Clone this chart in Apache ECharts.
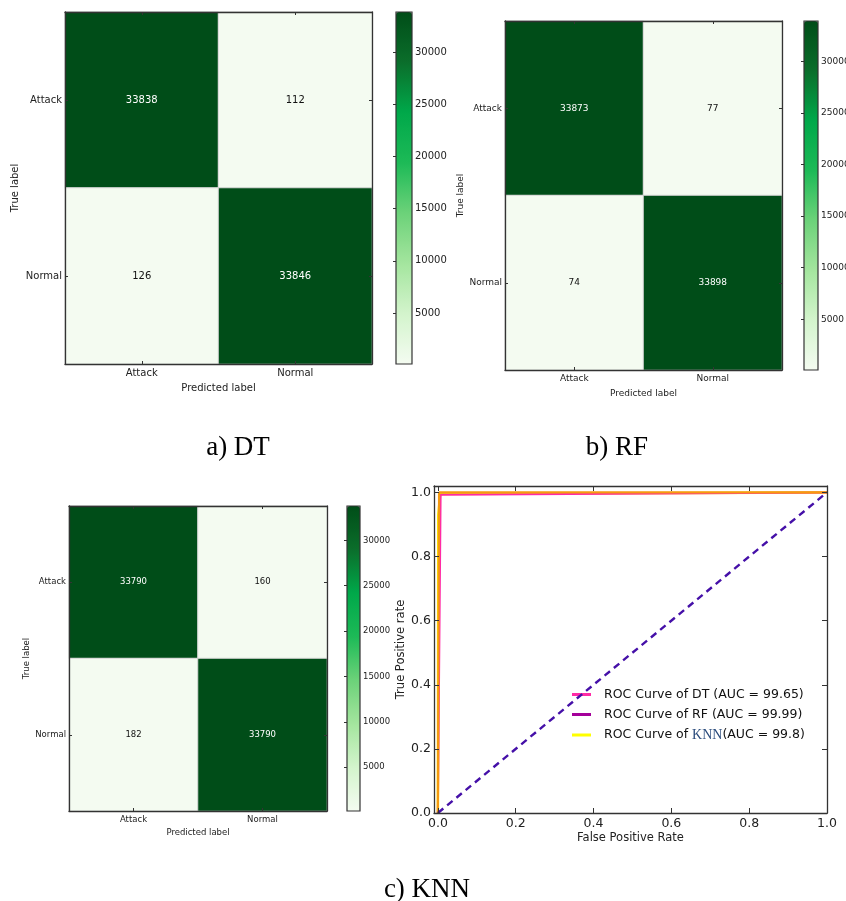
<!DOCTYPE html>
<html><head><meta charset="utf-8">
<script src="https://cdn.jsdelivr.net/npm/echarts@6/dist/echarts.min.js"></script>
<style>html,body{margin:0;padding:0;background:#fff}#c{width:846px;height:901px}</style>
</head><body><div id="c"></div>
<script>
// ---- data ----
const classLabels = ['Attack', 'Normal'];
// rows = true label, cols = predicted label
const dtMatrix = [[33838, 112], [126, 33846]];
const rfMatrix = [[33873, 77], [74, 33898]];
const knnMatrix = [[33790, 160], [182, 33790]];
const colorbarTicks = [5000, 10000, 15000, 20000, 25000, 30000];
const rocTicks = [0, 0.2, 0.4, 0.6, 0.8, 1.0];
const rocDT = [[0, 0], [0.007, 0.993], [1, 1]];
const rocRF = [[0, 0], [0.003, 1.0], [1, 1]];
const rocKNN = [[0, 0], [0.001, 0.93], [0.006, 0.995], [1, 1]];
const chanceLine = [[0, 0], [1, 1]];
const legendNames = ['ROC Curve of DT (AUC = 99.65)', 'ROC Curve of RF (AUC = 99.99)', 'ROC Curve of KNN (AUC = 99.8)'];
const captions = ['a) DT', 'b) RF', 'c) KNN'];

// ---- styling ----
const fontFam = '"DejaVu Sans", sans-serif';
const txt = '#222';
const frame = '#333';
const greens = ['#f4fbf1', '#d3f4cc', '#a4e59e', '#6cd279', '#1dba57', '#00a84a', '#0b6e2b', '#004d18'];

const grids = [], xAxes = [], yAxes = [], series = [], visualMaps = [], graphics = [];

function addCM(m, p) {
  const gi = grids.length;
  grids.push(Object.assign({ show: false, outerBoundsMode: 'none', containLabel: false }, p.grid));
  const flat = m.flat();
  const vmin = Math.min(...flat), vmax = Math.max(...flat);
  const common = {
    type: 'category', data: classLabels, gridIndex: gi, z: 10,
    axisLine: { show: true, lineStyle: { color: frame, width: 1.3 } },
    axisTick: { show: true, inside: true, alignWithLabel: true, length: 3, lineStyle: { color: frame } },
    splitLine: { show: false }
  };
  const lab = { fontFamily: fontFam, fontSize: p.font, color: txt };
  xAxes.push(Object.assign({}, common, { position: 'bottom', name: 'Predicted label', nameLocation: 'middle', nameGap: p.xGap, nameTextStyle: lab, axisLabel: Object.assign({ margin: 4 }, lab) }));
  const xi = xAxes.length - 1;
  xAxes.push(Object.assign({}, common, { position: 'top', axisLabel: { show: false } }));
  yAxes.push(Object.assign({}, common, { position: 'left', inverse: true, name: 'True label', nameLocation: 'middle', nameGap: p.yGap, nameTextStyle: lab, axisLabel: Object.assign({ margin: 3 }, lab) }));
  const yi = yAxes.length - 1;
  yAxes.push(Object.assign({}, common, { position: 'right', inverse: true, axisLabel: { show: false } }));
  const data = [];
  m.forEach((row, i) => row.forEach((v, j) => data.push({ value: [j, i, v], label: { color: v > (vmin + vmax) / 2 ? '#ffffff' : '#111111' } })));
  const si = series.length;
  series.push({
    type: 'heatmap', xAxisIndex: xi, yAxisIndex: yi, data,
    label: { show: true, fontFamily: fontFam, fontSize: p.font },
    itemStyle: { borderColor: '#d8d8d8', borderWidth: 1 },
    emphasis: { disabled: true }
  });
  visualMaps.push({
    type: 'continuous', seriesIndex: si, dimension: 2, min: vmin, max: vmax,
    inRange: { color: greens }, show: true, calculable: false, orient: 'vertical',
    left: p.cb.left, top: p.cb.top, itemWidth: p.cb.width, itemHeight: p.cb.height,
    padding: 0, text: null, hoverLink: false
  });
  const ci = grids.length;
  grids.push(Object.assign({ show: true, z: 10, borderColor: frame, borderWidth: 1.2, backgroundColor: 'transparent', outerBoundsMode: 'none' }, p.cb));
  xAxes.push({ type: 'value', gridIndex: ci, show: false, min: 0, max: 1 });
  yAxes.push({
    type: 'value', gridIndex: ci, position: 'right', min: vmin, max: vmax, z: 10,
    axisLine: { show: false }, splitLine: { show: false },
    axisTick: { show: true, inside: true, length: 3, customValues: colorbarTicks, lineStyle: { color: frame } },
    axisLabel: Object.assign({ customValues: colorbarTicks, margin: 3, formatter: v => String(v) }, lab)
  });
}

addCM(dtMatrix, { grid: { left: 65, top: 12, width: 307, height: 352 }, cb: { left: 396, top: 12, width: 16, height: 352 }, font: 10, xGap: 19, yGap: 45 });
addCM(rfMatrix, { grid: { left: 505, top: 21, width: 277, height: 349 }, cb: { left: 804, top: 21, width: 14, height: 349 }, font: 9, xGap: 19, yGap: 40 });
addCM(knnMatrix, { grid: { left: 69, top: 506, width: 258, height: 305 }, cb: { left: 347, top: 506, width: 13, height: 305 }, font: 8.5, xGap: 17, yGap: 38 });

// ---- ROC ----
const rg = grids.length;
grids.push({ left: 434, top: 486, width: 393, height: 327, show: false, outerBoundsMode: 'none' });
function valAxis(pos, min, max, label, name, gap) {
  return {
    type: 'value', gridIndex: rg, position: pos, min, max, z: 10,
    axisLine: { show: true, onZero: false, lineStyle: { color: frame, width: 1.3 } },
    splitLine: { show: false },
    axisTick: { show: true, inside: true, length: 5, customValues: rocTicks, lineStyle: { color: frame } },
    axisLabel: label ? { customValues: rocTicks, formatter: v => v.toFixed(1), fontFamily: fontFam, fontSize: 12.5, color: txt, margin: pos === 'bottom' ? 4 : 3 } : { show: false },
    name: name || '', nameLocation: 'middle', nameGap: gap || 0,
    nameTextStyle: { fontFamily: fontFam, fontSize: 11.5, color: txt }
  };
}
xAxes.push(valAxis('bottom', -0.01, 1.0, true, 'False Positive Rate', 19));
const rx = xAxes.length - 1;
xAxes.push(valAxis('top', -0.01, 1.0, false));
yAxes.push(valAxis('left', 0, 1.02, true, 'True Positive rate', 26));
const ry = yAxes.length - 1;
yAxes.push(valAxis('right', 0, 1.02, false));

const lineBase = { type: 'line', xAxisIndex: rx, yAxisIndex: ry, symbol: 'none', showSymbol: false, emphasis: { disabled: true } };
series.push(Object.assign({}, lineBase, { name: legendNames[2], data: rocKNN, lineStyle: { color: '#f5ee00', width: 2.5 }, itemStyle: { color: '#f5ee00' }, z: 3 }));
series.push(Object.assign({}, lineBase, { name: legendNames[0], data: rocDT, lineStyle: { color: '#ff2aa6', width: 2 }, itemStyle: { color: '#ff2aa6' }, z: 4 }));
series.push(Object.assign({}, lineBase, { name: legendNames[1], data: rocRF, lineStyle: { color: '#f59a10', width: 2.2 }, itemStyle: { color: '#f59a10' }, z: 5 }));
series.push(Object.assign({}, lineBase, { name: 'chance', data: chanceLine, lineStyle: { color: '#4510a8', width: 2.4, type: [7, 5] }, itemStyle: { color: '#4510a8' }, z: 6 }));

const legendColors = ['#ff2aa6', '#a4009a', '#ffff00'];

captions.forEach((c, i) => {
  const pos = [[238, 448], [617, 448], [427, 890]][i];
  graphics.push({ type: 'text', x: pos[0], y: pos[1], style: { text: c, font: '27px "Liberation Serif", "Times New Roman", serif', fill: '#000', textAlign: 'center', textVerticalAlign: 'middle' } });
});

const chart = echarts.init(document.getElementById('c'), null, { renderer: 'canvas' });
chart.setOption({
  animation: false,
  backgroundColor: '#ffffff',
  grid: grids, xAxis: xAxes, yAxis: yAxes, series, visualMap: visualMaps, graphic: graphics,
  legend: {
    orient: 'vertical', left: 572, top: 688, padding: 0, itemGap: 7, itemWidth: 19, itemHeight: 14,
    selectedMode: false,
    data: legendNames.map((n, i) => ({ name: n, icon: 'path://M0,0L19,0L19,3L0,3Z', itemStyle: { color: legendColors[i], borderWidth: 0 } })),
    formatter: n => n.replace('KNN ', '{k|KNN}'),
    textStyle: { fontFamily: fontFam, fontSize: 12.5, color: '#111', padding: [0, 0, 0, 8],
      rich: { k: { fontFamily: '"Liberation Serif", serif', fontSize: 14, color: '#2a4b7c' } } }
  }
});
</script>
</body></html>
